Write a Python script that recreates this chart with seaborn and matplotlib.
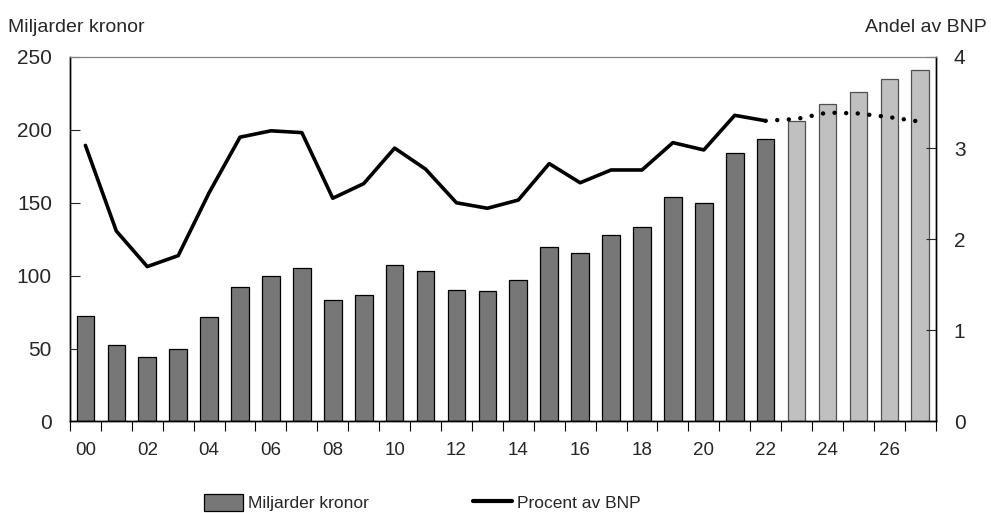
import numpy as np
import pandas as pd
import matplotlib
matplotlib.use("Agg")
import matplotlib.pyplot as plt
from matplotlib.patches import Patch
from matplotlib.lines import Line2D
import seaborn as sns

# Data
years = ["00", "01", "02", "03", "04", "05", "06", "07", "08", "09",
         "10", "11", "12", "13", "14", "15", "16", "17", "18", "19",
         "20", "21", "22", "23", "24", "25", "26", "27"]
mdkr = [72.5, 52.5, 44, 49.5, 72, 92.5, 100, 105, 83.5, 87,
        107, 103, 90, 89.5, 97, 120, 115.5, 128, 133.5, 154,
        150, 184, 194, 206, 218, 226, 235, 241]
andel_bnp = [3.03, 2.09, 1.70, 1.82, 2.51, 3.12, 3.19, 3.17, 2.45, 2.61,
             3.00, 2.77, 2.40, 2.34, 2.43, 2.83, 2.62, 2.76, 2.76, 3.06,
             2.98, 3.36, 3.30, 3.32, 3.39, 3.38, 3.34, 3.29]
last_outcome = "22"

sns.set_style("white")
plt.rcParams["font.family"] = ["Liberation Sans", "DejaVu Sans"]

df = pd.DataFrame({"year": years, "mdkr": mdkr, "andel": andel_bnp})
df["pos"] = np.arange(len(df))
split = years.index(last_outcome)
df["kind"] = np.where(df["pos"] <= split, "utfall", "prognos")

fig = plt.figure(figsize=(9.91, 5.13), dpi=100)
ax = fig.add_axes([0.0706, 0.1784, 0.8736, 0.7105])

sns.barplot(data=df, x="year", y="mdkr", hue="kind", dodge=False,
            palette={"utfall": "#777777", "prognos": "#c0c0c0"},
            width=0.57, legend=False, ax=ax, zorder=2)
for p in ax.patches:
    if p.get_facecolor()[0] > 0.6:
        p.set_edgecolor("#505050")
    else:
        p.set_edgecolor("black")
    p.set_linewidth(0.9)

ax.set_ylim(0, 250)
ax.set_xlim(-0.5, len(years) - 0.5)
ax.set_yticks([0, 50, 100, 150, 200, 250])
ax.set_xlabel("")
ax.set_ylabel("")

# year labels under even years, tick marks between bars
ax.set_xticks(df["pos"][::2])
ax.set_xticklabels(years[::2], fontsize=13.5)
ax.set_xticks(np.arange(-0.5, len(years)), minor=True)
ax.tick_params(axis="x", which="major", length=0, pad=15)
ax.tick_params(axis="x", which="minor", length=7, width=0.8, direction="out", color="black", bottom=True)
ax.tick_params(axis="y", direction="in", length=7, width=0.8, pad=13, labelsize=15, left=True)

ax2 = ax.twinx()
hist = df[df["pos"] <= split]
prog = df[df["pos"] >= split]
sns.lineplot(data=hist, x="pos", y="andel", color="black", linewidth=2.6, ax=ax2)
sns.lineplot(data=prog, x="pos", y="andel", color="black", linewidth=3.2,
             linestyle=(0, (0.01, 2.6)), dash_capstyle="round", ax=ax2)
ax2.set_ylim(0, 4)
ax2.set_yticks([0, 1, 2, 3, 4])
ax2.set_ylabel("")
ax2.set_xlim(-0.5, len(years) - 0.5)
ax2.tick_params(axis="y", direction="in", length=7, width=0.8, pad=13, labelsize=15, right=True)

for a in (ax, ax2):
    for side in ["left", "right", "bottom"]:
        a.spines[side].set_color("black")
        a.spines[side].set_linewidth(1.0)
    a.spines["top"].set_color("#808080")
    a.spines["top"].set_linewidth(0.8)

fig.text(8 / 991, 1 - 32 / 513, "Miljarder kronor", fontsize=14, va="baseline", ha="left")
fig.text(987 / 991, 1 - 32 / 513, "Andel av BNP", fontsize=14, va="baseline", ha="right")

handles = [Patch(facecolor="#777777", edgecolor="black", linewidth=0.9),
           Line2D([], [], color="black", linewidth=3)]
fig.legend(handles, ["Miljarder kronor", "Procent av BNP"],
           loc="lower left", bbox_to_anchor=(202 / 991, 0.0), ncol=2, frameon=False,
           fontsize=12.5, handlelength=2.25, handleheight=1.1,
           handletextpad=0.3, columnspacing=6.0, borderpad=0.1, borderaxespad=0)

fig.savefig("out.png", dpi=100)
